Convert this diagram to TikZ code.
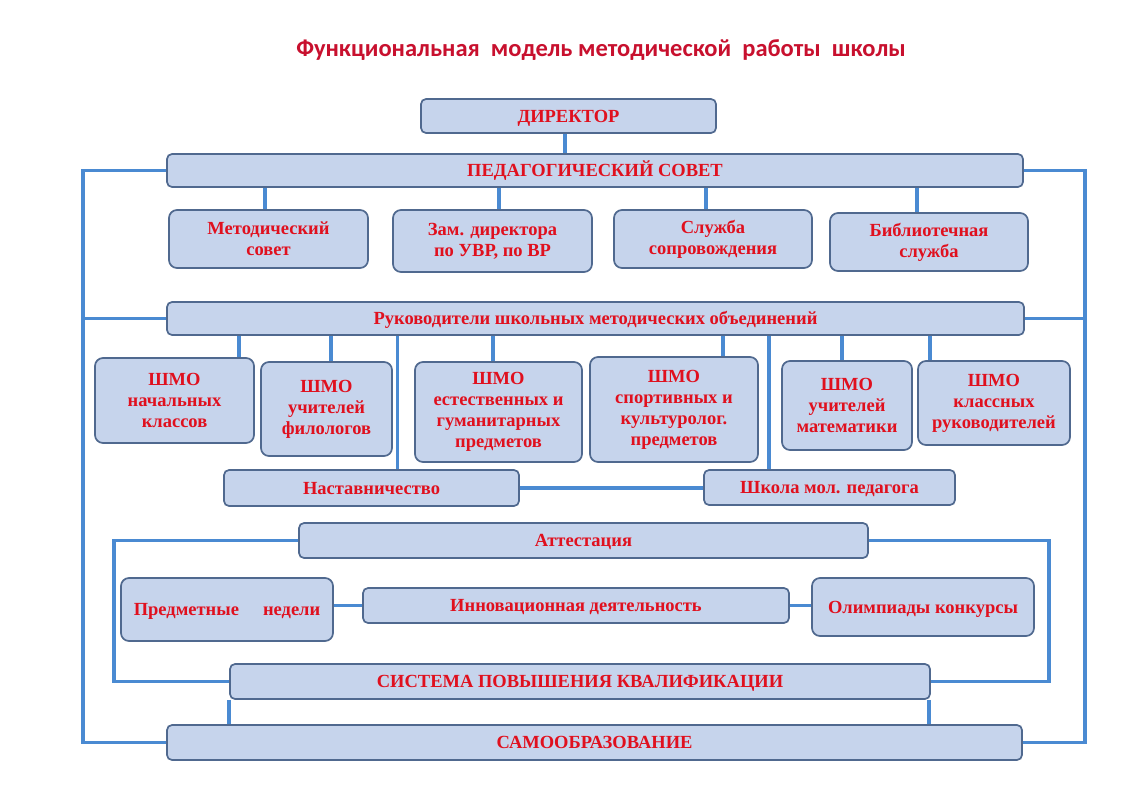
\documentclass[tikz,border=0pt]{standalone}
\usepackage{fontspec}
\setmainfont{Liberation Serif}
\newfontfamily\titlefont{Carlito}
\usetikzlibrary{backgrounds}
\definecolor{boxfill}{HTML}{C6D4EC}
\definecolor{boxdraw}{HTML}{50698F}
\definecolor{conncol}{HTML}{4A8AD2}
\definecolor{txtred}{HTML}{E0101E}
\definecolor{titlered}{HTML}{C8102E}
\begin{document}
\begin{tikzpicture}[x=1pt,y=-1pt,
  box/.style={draw=boxdraw, line width=1.7pt, fill=boxfill, rounded corners=8pt,
    text=txtred, align=center, inner sep=2pt,
    font=\bfseries\fontsize{18.5}{21}\selectfont},
  bar/.style={box, rounded corners=5pt, text height=13pt, text depth=1pt},
  conn/.style={draw=conncol, line width=3.4pt}]
\useasboundingbox (0,0) rectangle (1131,800);
% title
\node[text=titlered, font=\titlefont\bfseries\fontsize{24.5}{28}\selectfont] (title) at (601,50)
  {Функциональная\ \ модель методической\ \ работы\ \ школы};
% nodes
\node[bar, minimum width=295, minimum height=34] (dir) at (568.5,116) {ДИРЕКТОР};
\node[bar, minimum width=856, minimum height=33] (ped) at (595,170.5) {ПЕДАГОГИЧЕСКИЙ СОВЕТ};
\node[box, minimum width=199, minimum height=58] (met) at (268.5,239) {Методический\\совет};
\node[box, minimum width=199, minimum height=62] (zam) at (492.5,241) {Зам. директора\\по УВР, по ВР};
\node[box, minimum width=198, minimum height=58] (slu) at (713,239) {Служба\\сопровождения};
\node[box, minimum width=198, minimum height=58] (bib) at (929,242) {Библиотечная\\служба};
\node[bar, minimum width=857, minimum height=33] (ruk) at (595.5,318.5) {Руководители школьных методических объединений};
\node[box, minimum width=159, minimum height=85] (sh1) at (174.5,400.5) {ШМО\\начальных\\классов};
\node[box, minimum width=131, minimum height=94] (sh2) at (326.5,409) {ШМО\\учителей\\филологов};
\node[box, minimum width=167, minimum height=100] (sh3) at (498.5,412) {ШМО\\естественных и\\гуманитарных\\предметов};
\node[box, minimum width=168, minimum height=105] (sh4) at (674,409.5) {ШМО\\спортивных и\\культуролог.\\предметов};
\node[box, minimum width=130, minimum height=89] (sh5) at (847,405.5) {ШМО\\учителей\\математики};
\node[box, minimum width=152, minimum height=84] (sh6) at (994,403) {ШМО\\классных\\руководителей};
\node[bar, minimum width=295, minimum height=36] (nas) at (371.5,488) {Наставничество};
\node[bar, minimum width=251, minimum height=35] (shk) at (829.5,487.5) {Школа мол. педагога};
\node[bar, minimum width=569, minimum height=35] (att) at (583.5,540.5) {Аттестация};
\node[box, minimum width=212, minimum height=63, text height=13pt, text depth=1pt] (pre) at (227,609.5) {Предметные\hspace{1.3em}недели};
\node[bar, minimum width=426, minimum height=35] (inn) at (576,605.5) {Инновационная деятельность};
\node[box, minimum width=222, minimum height=58, text height=13pt, text depth=1pt] (oli) at (923,607) {Олимпиады конкурсы};
\node[bar, minimum width=700, minimum height=35] (sis) at (580,681.5) {СИСТЕМА ПОВЫШЕНИЯ КВАЛИФИКАЦИИ};
\node[bar, minimum width=855, minimum height=35] (sam) at (594.5,742.5) {САМООБРАЗОВАНИЕ};
% connectors
\begin{scope}[on background layer]
\fill[white] (0,0) rectangle (1131,800);
\draw[conn] (565,0 |- dir.south) -- (565,0 |- ped.north);
\draw[conn] (265,0 |- ped.south) -- (265,0 |- met.north);
\draw[conn] (499,0 |- ped.south) -- (499,0 |- zam.north);
\draw[conn] (706,0 |- ped.south) -- (706,0 |- slu.north);
\draw[conn] (917,0 |- ped.south) -- (917,0 |- bib.north);
\draw[conn] (ped.west) -- (83,0 |- ped.west) -- (83,0 |- sam.west) -- (sam.west);
\draw[conn] (ruk.west) -- (83,0 |- ruk.west);
\draw[conn] (ped.east) -- (1085,0 |- ped.east) -- (1085,0 |- sam.east) -- (sam.east);
\draw[conn] (ruk.east) -- (1085,0 |- ruk.east);
\draw[conn] (239,0 |- ruk.south) -- (239,0 |- sh1.north);
\draw[conn] (331,0 |- ruk.south) -- (331,0 |- sh2.north);
\draw[conn] (493,0 |- ruk.south) -- (493,0 |- sh3.north);
\draw[conn] (723,0 |- ruk.south) -- (723,0 |- sh4.north);
\draw[conn] (842,0 |- ruk.south) -- (842,0 |- sh5.north);
\draw[conn] (930,0 |- ruk.south) -- (930,0 |- sh6.north);
\draw[conn] (397.5,0 |- ruk.south) -- (397.5,0 |- nas.north);
\draw[conn] (769,0 |- ruk.south) -- (769,0 |- shk.north);
\draw[conn] (nas.east) -- (nas.east -| shk.west);
\draw[conn] (att.west) -- (114,0 |- att.west) -- (114,0 |- sis.west) -- (sis.west);
\draw[conn] (att.east) -- (1049,0 |- att.east) -- (1049,0 |- sis.east) -- (sis.east);
\draw[conn] (inn.west) -- (inn.west -| pre.east);
\draw[conn] (inn.east) -- (inn.east -| oli.west);
\draw[conn] (229,0 |- sis.south) -- (229,0 |- sam.north);
\draw[conn] (929,0 |- sis.south) -- (929,0 |- sam.north);
\end{scope}
\end{tikzpicture}
\end{document}
